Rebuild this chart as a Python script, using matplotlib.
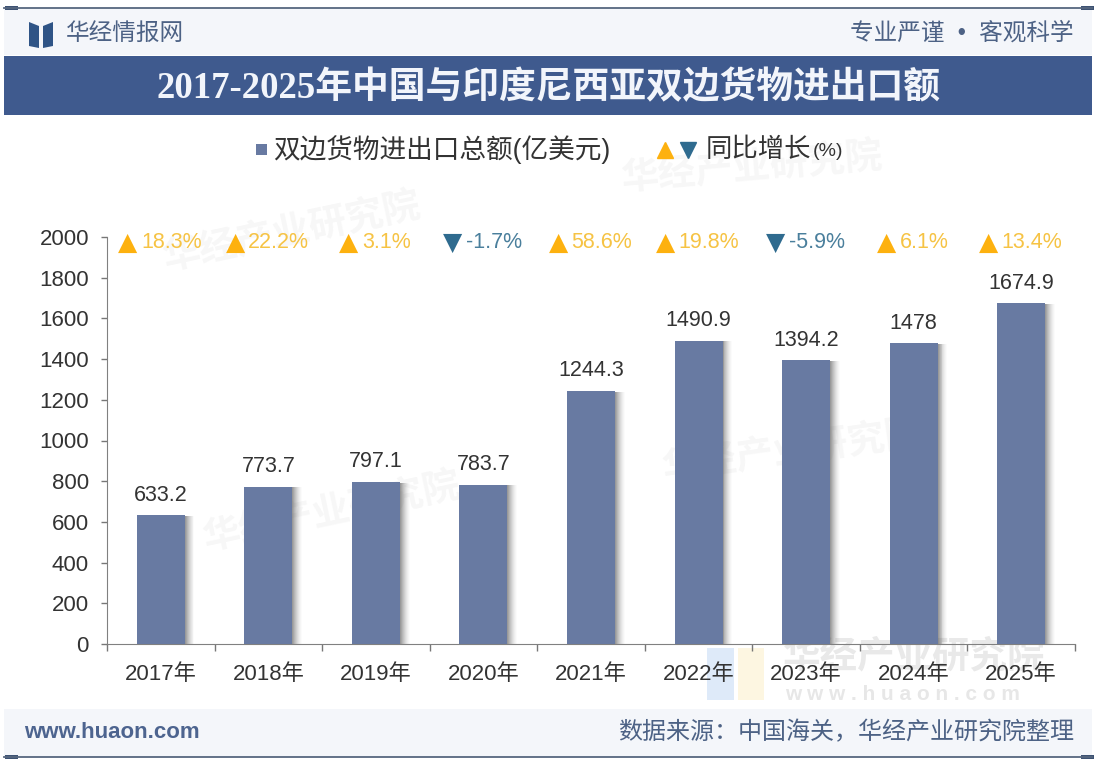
import matplotlib
matplotlib.use("Agg")
import matplotlib.pyplot as plt
from matplotlib.patches import Rectangle, Polygon

plt.rcParams['font.family'] = ['Liberation Sans', 'Noto Sans CJK SC', 'DejaVu Sans']

years = ['2017年', '2018年', '2019年', '2020年', '2021年', '2022年', '2023年', '2024年', '2025年']
trade = [633.2, 773.7, 797.1, 783.7, 1244.3, 1490.9, 1394.2, 1478, 1674.9]
trade_labels = ['633.2', '773.7', '797.1', '783.7', '1244.3', '1490.9', '1394.2', '1478', '1674.9']
growth = [18.3, 22.2, 3.1, -1.7, 58.6, 19.8, -5.9, 6.1, 13.4]
y_ticks = list(range(0, 2001, 200))

BAR = '#687aa2'
UP = '#fdb10f'
UP_TEXT = '#f6c344'
DOWN = '#2f6b8f'
DOWN_TEXT = '#4a7f9c'
DARK = '#333333'
NAVY = '#3f5a8e'
HEAD = '#4d6285'

W, H = 1098, 762
PX = 0.72  # points per pixel at dpi 100
fig = plt.figure(figsize=(W / 100, H / 100), dpi=100, facecolor='white')

# page furniture, drawn in pixel coordinates
bg = fig.add_axes([0, 0, 1, 1], zorder=0)
bg.set_xlim(0, W)
bg.set_ylim(H, 0)
bg.axis('off')
bg.add_patch(Rectangle((4, 8), 1088, 47, fc='#f4f6fa', ec='none'))
bg.add_patch(Rectangle((4, 56), 1088, 59, fc=NAVY, ec='none'))
bg.add_patch(Rectangle((4, 709), 1088, 48, fc='#f4f6fa', ec='none'))
for yy in (8, 757):
    bg.plot([4, 1092], [yy, yy], color='#56677f', lw=1.3)
    bg.add_patch(Rectangle((5, yy - 2), 13, 4, fc='#3d5273', ec='none'))
    bg.add_patch(Rectangle((1081, yy - 2), 13, 4, fc='#3d5273', ec='none'))

# logo
bg.add_patch(Polygon([(29, 22), (39, 26), (39, 48), (29, 46)], fc='#2f5486', ec='none'))
bg.add_patch(Polygon([(53, 22), (43, 26), (43, 48), (53, 46)], fc='#2f5486', ec='none'))

bg.text(66, 34, '华经情报网', fontsize=17, color=HEAD, va='center')
bg.text(1074, 33, '专业严谨  •  客观科学', fontsize=17, color=HEAD, va='center', ha='right')
bg.text(549, 88, '2017-2025年中国与印度尼西亚双边货物进出口额', fontsize=26.5, color='#f2f5fb',
        fontweight='bold', va='center', ha='center',
        family=['Liberation Serif', 'Noto Sans CJK SC'])
bg.text(24, 733, 'www.huaon.com', fontsize=16, color='#4d648f', fontweight='bold', va='center')
bg.text(1074, 733, '数据来源：中国海关，华经产业研究院整理', fontsize=17.3, color=HEAD, va='center', ha='right')

# legend
bg.add_patch(Rectangle((256, 144), 11, 11, fc=BAR, ec='none'))
bg.text(273, 150, '双边货物进出口总额(亿美元)', fontsize=19.2, color=DARK, va='center')
bg.plot([665], [150], marker='^', ms=11, color=UP, ls='none')
bg.plot([688], [150], marker='v', ms=11, color=DOWN, ls='none')
bg.text(706, 150, '同比增长', fontsize=19, color=DARK, va='center')
bg.text(813, 151, '(%)', fontsize=14, color=DARK, va='center')

# faint watermarks
for x0, y0, rot, alpha in [(620, 190, 5, 0.05), (160, 270, 12, 0.05),
                           (200, 550, 12, 0.05), (660, 480, 8, 0.05),
                           (783, 668, 0, 0.13)]:
    bg.text(x0, y0, '华经产业研究院', fontsize=27, color='#555555', alpha=alpha, rotation=rot,
            fontweight='bold', va='baseline', zorder=0)
bg.text(785, 700, 'w w w . h u a o n . c o m', fontsize=15, color='#555555', alpha=0.14,
        fontweight='bold', va='baseline', zorder=0)
bg.add_patch(Rectangle((707, 648), 27, 52, fc='#c9dcf5', alpha=0.6, ec='none'))
bg.add_patch(Rectangle((738, 648), 26, 52, fc='#fdf0cd', alpha=0.6, ec='none'))

# chart
left, right, top, bottom = 107, 1075, 237, 644
ax = fig.add_axes([left / W, 1 - bottom / H, (right - left) / W, (bottom - top) / H], zorder=1)
ax.patch.set_alpha(0)
x = list(range(len(years)))
bar_w = 0.446

# soft shadow on the right hand side of each bar
steps = 10
for s in range(steps):
    off = bar_w / 2 + s * 0.009
    ax.bar([i + off + 0.0045 for i in x], [v - 4 for v in trade], width=0.009,
           color='#555555', alpha=0.6 * (1 - s / steps) ** 1.5, lw=0, zorder=2)
ax.bar(x, trade, width=bar_w, color=BAR, zorder=3)

ax.set_xlim(-0.5, len(years) - 0.5)
ax.set_ylim(0, 2000)
ax.set_yticks(y_ticks)
ax.set_xticks([i - 0.5 for i in range(len(years) + 1)], minor=False)
ax.set_xticklabels([])
for i, name in zip(x, years):
    ax.annotate(name, (i, 0), xytext=(0, -22), textcoords='offset points', ha='center', va='center',
                fontsize=16, color=DARK, annotation_clip=False)
ax.tick_params(axis='x', length=5, color='#777777', width=1)
ax.tick_params(axis='y', length=4, color='#777777', width=1, labelsize=16, labelcolor=DARK, pad=9)
for side in ('top', 'right'):
    ax.spines[side].set_visible(False)
for side in ('left', 'bottom'):
    ax.spines[side].set_color('#808080')

for i, v, lab in zip(x, trade, trade_labels):
    ax.annotate(lab, (i, v), xytext=(0, 14.5), textcoords='offset points', ha='center', va='center',
                fontsize=15.5, color=DARK, annotation_clip=False)

# growth row above the plot: marker + label, centred as one group on the bar
fig.canvas.draw()
renderer = fig.canvas.get_renderer()
mark_w = 21  # marker plus gap, in pixels
for i, g in zip(x, growth):
    up = g >= 0
    t = ax.annotate(f'{g}%', (i, 2000), xytext=(0, -4), textcoords='offset points', va='center', ha='left',
                    fontsize=15.5, color=UP_TEXT if up else DOWN_TEXT, annotation_clip=False)
    group = t.get_window_extent(renderer).width + mark_w
    t.set_position(((-group / 2 + mark_w) * PX, -4))
    ax.annotate('▲' if up else '▼', (i, 2000), xytext=((-group / 2 + 8) * PX, -4), textcoords='offset points',
                va='center', ha='center', fontsize=18, color=UP if up else DOWN,
                annotation_clip=False, family='DejaVu Sans')

fig.savefig('out.png', dpi=100, facecolor='white')
